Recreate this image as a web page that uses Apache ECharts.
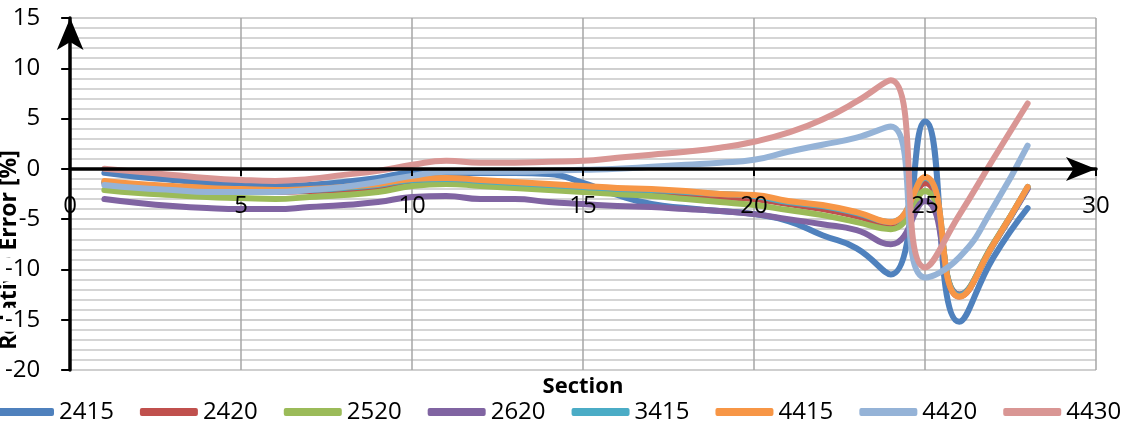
<!DOCTYPE html>
<html>
<head>
<meta charset="utf-8">
<script src="https://cdn.jsdelivr.net/npm/echarts@6/dist/echarts.min.js"></script>
<style>
html,body{margin:0;padding:0;background:#fff;}
#chart{width:1129px;height:436px;}
</style>
</head>
<body>
<div id="chart"></div>
<script>
const sections = [1,2,3,4,5,6,7,8,9,10,11,12,13,14,15,16,17,18,19,20,21,22,23,24,25,26,27,28];
const seriesNames = ['2415','2420','2520','2620','3415','4415','4420','4430'];
const s2415 = [-0.4,-0.8,-1.1,-1.4,-1.6,-1.7,-1.6,-1.3,-0.9,-0.4,-0.4,-0.4,-0.4,-0.5,-1.4,-2.6,-3.5,-3.9,-4.2,-4.5,-5.2,-6.6,-7.9,-10.5,4.7,-15.2,-8.8,-3.9];
const s2420 = [-1.4,-1.7,-1.9,-2.1,-2.2,-2.3,-2.2,-2.1,-1.8,-1.2,-1.1,-1.3,-1.5,-1.8,-2.0,-2.2,-2.4,-2.6,-2.8,-3.0,-3.5,-4.0,-4.7,-5.6,-1.4,-12.7,-7.5,-1.9];
const s2520 = [-2.1,-2.4,-2.6,-2.8,-2.9,-3.0,-2.8,-2.6,-2.3,-1.7,-1.5,-1.7,-1.9,-2.1,-2.3,-2.5,-2.7,-3.0,-3.3,-3.6,-4.1,-4.6,-5.3,-6.0,-2.2,-12.5,-7.4,-1.9];
const s2620 = [-3.0,-3.4,-3.7,-3.9,-4.0,-4.0,-3.8,-3.6,-3.3,-2.8,-2.7,-3.0,-3.0,-3.3,-3.5,-3.7,-3.8,-4.0,-4.2,-4.5,-5.0,-5.5,-6.1,-7.5,-3.2,-12.5,-7.5,-2.0];
const s3415 = [-1.3,-1.6,-1.8,-2.0,-2.1,-2.2,-2.1,-1.9,-1.6,-1.1,-1.0,-1.2,-1.4,-1.6,-1.8,-2.0,-2.1,-2.3,-2.5,-2.7,-3.3,-3.7,-4.4,-5.3,-0.9,-12.6,-7.5,-1.8];
const s4415 = [-1.2,-1.5,-1.7,-1.9,-2.0,-2.1,-2.0,-1.8,-1.5,-1.0,-0.9,-1.1,-1.3,-1.5,-1.7,-1.9,-2.0,-2.2,-2.5,-2.6,-3.2,-3.6,-4.3,-5.3,-0.8,-12.7,-7.5,-1.8];
const s4420 = [-1.6,-1.9,-2.1,-2.3,-2.3,-2.3,-2.1,-1.8,-1.3,-0.7,-0.3,-0.3,-0.3,-0.2,-0.1,0.0,0.2,0.4,0.6,0.9,1.7,2.4,3.1,4.2,-10.8,-8.8,-3.8,2.3];
const s4430 = [0.0,-0.3,-0.6,-0.9,-1.1,-1.2,-1.0,-0.6,-0.2,0.4,0.8,0.6,0.6,0.7,0.8,1.1,1.4,1.7,2.1,2.7,3.6,4.9,6.7,8.8,-9.8,-4.6,1.0,6.5];
const xTicks = [0,5,10,15,20,25,30];
const yTicks = [-20,-15,-10,-5,0,5,10,15];

const allValues = [s2415,s2420,s2520,s2620,s3415,s4415,s4420,s4430];
const colors = ['#4F81BD','#C0504D','#9BBB59','#8064A2','#4BACC6','#F79646','#95B3D7','#D99694'];
const FONT = '"Open Sans", "Liberation Sans", sans-serif';
const xMin = xTicks[0], xMax = xTicks[xTicks.length-1];
const yMin = yTicks[0], yMax = yTicks[yTicks.length-1];

const chart = echarts.init(document.getElementById('chart'), null, {renderer:'canvas'});
const option = {
  animation: false,
  backgroundColor: '#ffffff',
  color: colors,
  grid: {left: 70, right: 33, top: 18, bottom: 66, containLabel: false},
  legend: {
    data: seriesNames,
    left: -4, top: 400, width: 1300,
    orient: 'horizontal',
    icon: 'roundRect',
    itemWidth: 58, itemHeight: 8, itemGap: 26,
    padding: 0,
    textStyle: {fontSize: 24, fontFamily: FONT, color: '#000'}
  },
  xAxis: [
    {
      type: 'value', min: xMin, max: xMax, interval: 5, position: 'bottom', z: 0,
      axisLine: {show: false}, axisTick: {show: false}, axisLabel: {show: false},
      splitLine: {show: true, lineStyle: {color: '#a6a6a6', width: 1.5}}
    },
    {
      type: 'value', min: xMin, max: xMax, interval: 5, position: 'bottom',
      offset: -201, z: 6,
      axisLine: {show: true, onZero: false, lineStyle: {color: '#000', width: 3.5},
        symbol: ['none','arrow'], symbolSize: [18, 30], symbolOffset: [0, 0]},
      axisTick: {show: true, length: 7, lineStyle: {color: '#000', width: 2}},
      axisLabel: {fontSize: 24, fontFamily: FONT, color: '#000', margin: 25},
      splitLine: {show: false}
    }
  ],
  yAxis: [
    {
      type: 'value', min: yMin, max: yMax, interval: 5, position: 'left', z: 0,
      axisLine: {show: false}, axisTick: {show: false}, axisLabel: {show: false},
      splitLine: {show: true, lineStyle: {color: '#bfbfbf', width: 1.5}},
      minorTick: {show: false, splitNumber: 5},
      minorSplitLine: {show: true, lineStyle: {color: '#c8c8c8', width: 1.5}}
    },
    {
      type: 'value', min: yMin, max: yMax, interval: 5, position: 'left', offset: 0, z: 7,
      axisLine: {show: true, onZero: false, lineStyle: {color: '#000', width: 3.5},
        symbol: ['none','arrow'], symbolSize: [20, 32], symbolOffset: [0, 0]},
      axisTick: {show: true, length: 9, lineStyle: {color: '#000', width: 2}},
      axisLabel: {fontSize: 24, fontFamily: FONT, color: '#000', margin: 28,
        backgroundColor: '#fff', padding: [0, 2, 0, 2]},
      splitLine: {show: false}
    }
  ],
  graphic: [
    {type: 'text', x: 583, y: 387, z: 1,
      style: {text: 'Section', fontSize: 22, fontWeight: 'bold', fontFamily: FONT, fill: '#000', align: 'center', verticalAlign: 'middle'}},
    {type: 'text', x: 9, y: 250, rotation: Math.PI/2, z: 0, zlevel: 0,
      style: {text: 'Relative Error [%]', fontSize: 23, fontWeight: 'bold', fontFamily: FONT, fill: '#000', align: 'center', verticalAlign: 'middle'}}
  ],
  series: seriesNames.map((name, i) => ({
    name: name,
    type: 'line',
    xAxisIndex: 0,
    yAxisIndex: 0,
    smooth: 0.5,
    showSymbol: false,
    symbol: 'none',
    lineStyle: {width: 6, color: colors[i], cap: 'round', join: 'round'},
    itemStyle: {color: colors[i]},
    data: sections.map((s, k) => [s, allValues[i][k]])
  }))
};
chart.setOption(option);
</script>
</body>
</html>
